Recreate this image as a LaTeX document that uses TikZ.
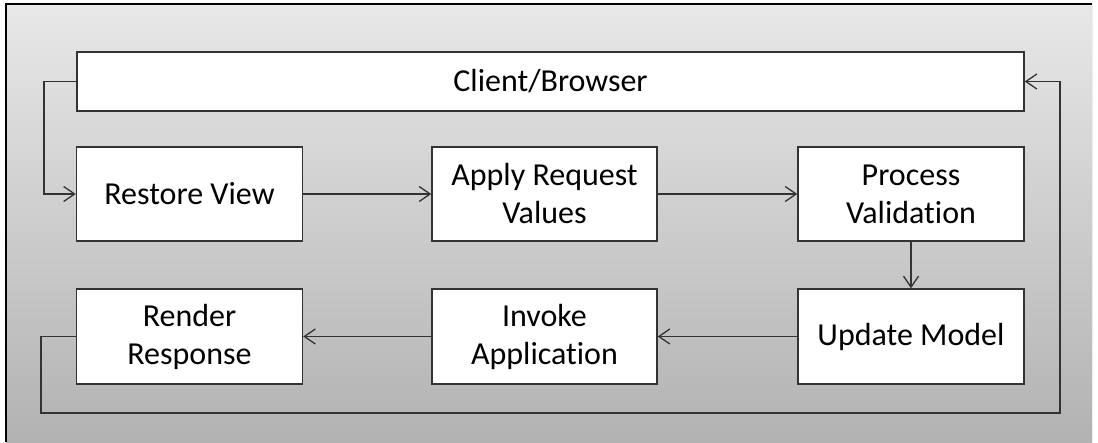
\documentclass[tikz,border=0pt]{standalone}
\usepackage{fontspec}
\setmainfont[Ligatures=NoCommon]{Carlito}
\usetikzlibrary{arrows.meta}
\definecolor{linegray}{HTML}{333333}
\definecolor{bgtop}{HTML}{E8E8E8}
\definecolor{bgbot}{HTML}{B2B2B2}
\tikzset{
  stage/.style={draw=linegray, line width=1.4pt, fill=white, inner sep=0pt,
    align=center, font=\fontsize{32}{38}\selectfont, text=black},
  flow/.style={draw=linegray, line width=1.4pt, -{Straight Barb[length=11pt,width=15pt,line width=1.3pt]}},
  plain/.style={draw=linegray, line width=1.4pt}
}
\begin{document}
\begin{tikzpicture}[x=1pt,y=-1pt]
\useasboundingbox (0,0) rectangle (1098,442);
\fill[white] (0,0) rectangle (1098,442);
\shade[top color=bgtop, bottom color=bgbot] (6,3) rectangle (1092,442);
\draw[white!92!black, line width=1pt] (1092,3) -- (1092,442);
\draw[black, line width=2pt] (6,442) -- (6,3.5) -- (1092,3.5);

\node[stage, minimum width=947pt, minimum height=59pt] (client) at (550.5,81.5) {Client/Browser};
\node[stage, minimum width=226pt, minimum height=94pt] (restore) at (189.5,194) {Restore View};
\node[stage, minimum width=225pt, minimum height=94pt] (apply) at (544.5,194) {Apply Request\\Values};
\node[stage, minimum width=226pt, minimum height=94pt] (process) at (911,194) {Process\\Validation};
\node[stage, minimum width=226pt, minimum height=95pt] (render) at (189.5,336.5) {Render\\Response};
\node[stage, minimum width=225pt, minimum height=95pt] (invoke) at (544.5,336.5) {Invoke\\Application};
\node[stage, minimum width=226pt, minimum height=95pt] (update) at (911,336.5) {Update Model};

\coordinate (l1) at (44,81.5);
\coordinate (l2) at (44,194);
\coordinate (r1) at (41,336.5);
\coordinate (r2) at (41,413);
\coordinate (r3) at (1060,413);
\coordinate (r4) at (1060,81.5);

\draw[flow] (client.west) -- (l1) -- (l2) -- (restore.west);
\draw[flow] (restore) -- (apply);
\draw[flow] (apply) -- (process);
\draw[flow] (process) -- (update);
\draw[flow] (update) -- (invoke);
\draw[flow] (invoke) -- (render);
\draw[flow] (render.west) -- (r1) -- (r2) -- (r3) -- (r4) -- (client.east);
\end{tikzpicture}
\end{document}
